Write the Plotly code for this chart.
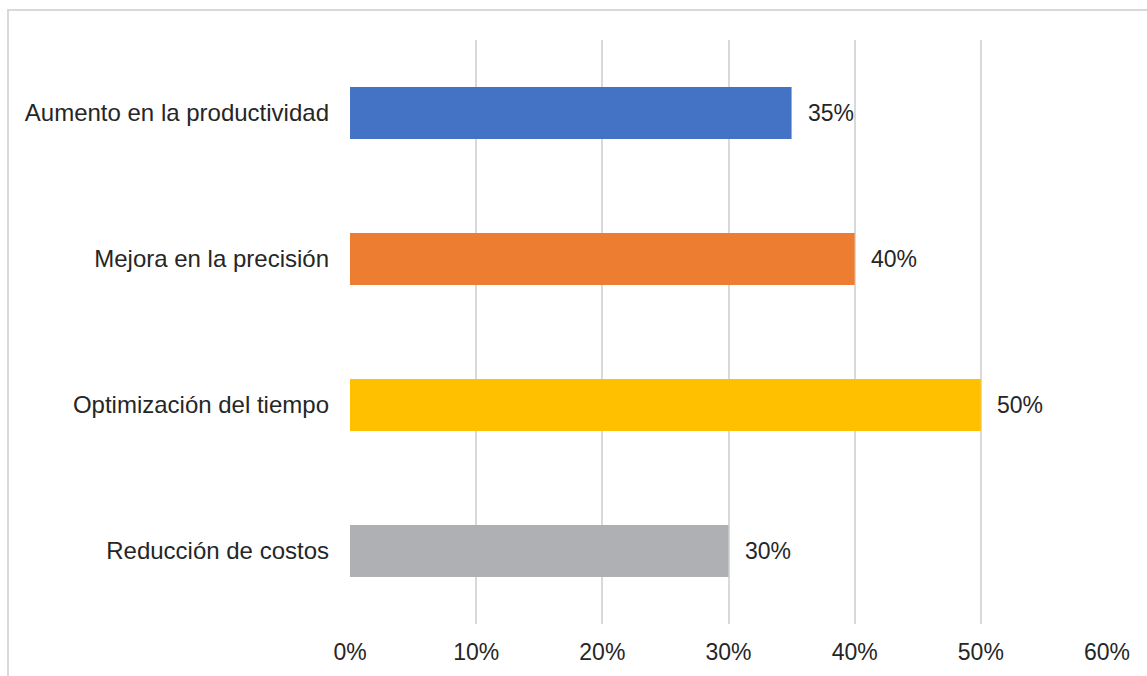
import plotly.graph_objects as go

categories = ["Aumento en la productividad", "Mejora en la precisión", "Optimización del tiempo", "Reducción de costos"]
values = [0.35, 0.40, 0.50, 0.30]
colors = ["#4472C4", "#ED7D31", "#FFC000", "#AFB0B3"]
tick_vals = [0, 0.1, 0.2, 0.3, 0.4, 0.5, 0.6]
tick_text = ["0%", "10%", "20%", "30%", "40%", "50%", "60%"]

FONT = "Liberation Sans, Arial"
TXT = "#262626"

fig = go.Figure()
fig.add_trace(go.Bar(
    x=values, y=categories, orientation="h",
    marker=dict(color=colors, line=dict(width=0)),
    hoverinfo="skip",
))

for c, v in zip(categories, values):
    fig.add_annotation(x=v, y=c, text=f"{round(v*100)}%", showarrow=False,
                       xanchor="left", xshift=14,
                       font=dict(family=FONT, size=23, color=TXT))

fig.add_shape(type="rect", xref="paper", yref="paper",
              x0=-0.4518, y0=-0.2, x1=1.2, y1=1.0514,
              line=dict(color="#D9D9D9", width=2), fillcolor="rgba(0,0,0,0)", layer="below")

fig.update_layout(
    width=1147, height=676,
    margin=dict(l=350, r=40, t=40, b=52),
    paper_bgcolor="white", plot_bgcolor="white",
    bargap=0.644,
    showlegend=False,
    font=dict(family=FONT, size=23, color=TXT),
    xaxis=dict(range=[0, 0.6], tickvals=tick_vals, ticktext=tick_text,
               showgrid=True, gridcolor="#D9D9D9", gridwidth=1.5,
               zeroline=False, showline=False, ticks="", ticklabelstandoff=12,
               tickfont=dict(size=23)),
    yaxis=dict(categoryorder="array", categoryarray=categories, autorange="reversed",
               showgrid=False, zeroline=False, showline=False, ticks="",
               ticklabelstandoff=20, tickfont=dict(size=24)),
)

fig.write_html("out.html")
